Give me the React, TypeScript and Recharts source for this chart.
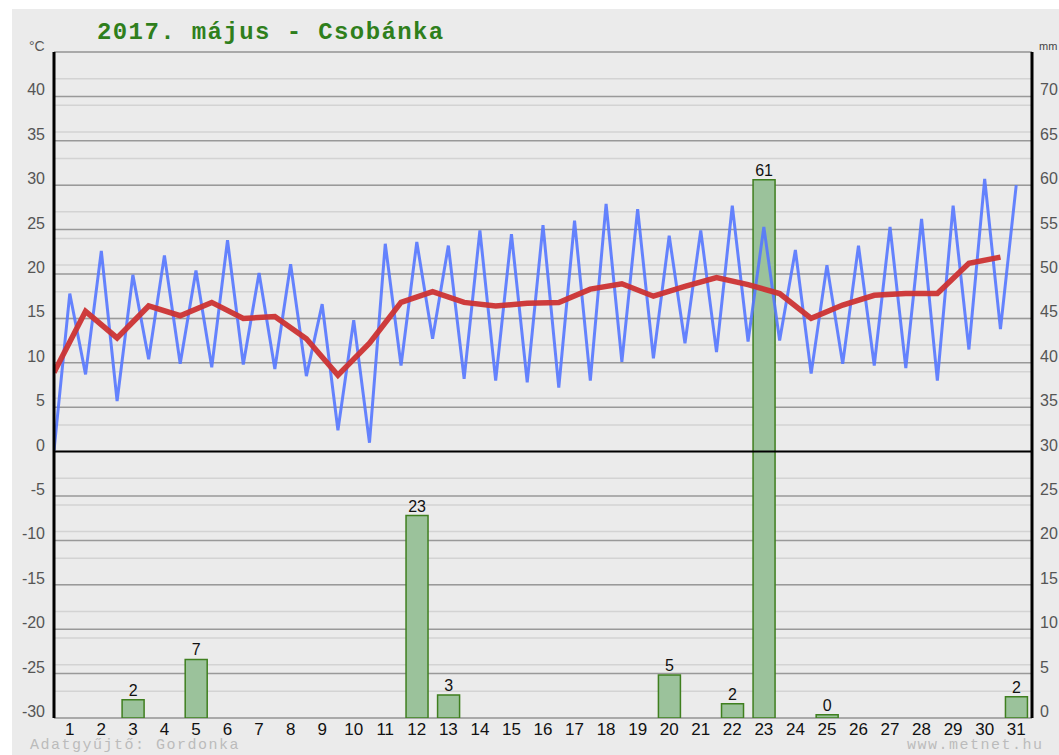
import React from "react";
import {
  ComposedChart,
  Bar,
  Line,
  XAxis,
  YAxis,
  CartesianGrid,
  ReferenceLine,
  LabelList,
} from "recharts";

// napok
const days = [
  1, 2, 3, 4, 5, 6, 7, 8, 9, 10, 11, 12, 13, 14, 15, 16, 17, 18, 19, 20, 21,
  22, 23, 24, 25, 26, 27, 28, 29, 30, 31,
];

// csapadek (mm), null = nem esett
const rainMm = [
  null, null, 2.05, null, 6.6, null, null, null, null, null, null, 22.8, 2.6,
  null, null, null, null, null, null, 4.85, null, 1.6, 60.6, null, 0.37, null,
  null, null, null, null, 2.4,
];

// homerseklet (°C)
const tempMin = [
  0.1, 8.7, 5.7, 10.4, 9.9, 9.5, 9.8, 9.3, 8.5, 2.4, 1.0, 9.7, 12.7, 8.2, 8.0,
  7.8, 7.2, 8.0, 10.1, 10.5, 12.2, 11.2, 12.4, 12.5, 8.8, 9.9, 9.7, 9.4, 8.0,
  11.5, 13.8,
];
const tempMax = [
  17.8, 22.6, 19.9, 22.1, 20.4, 23.8, 20.1, 21.1, 16.6, 14.8, 23.4, 23.6, 23.2,
  24.9, 24.5, 25.5, 26.0, 27.9, 27.3, 24.3, 24.9, 27.7, 25.3, 22.7, 21.0, 23.2,
  25.3, 26.2, 27.7, 30.7, 30.0,
];
const tempMean = [
  8.9, 15.8, 12.8, 16.4, 15.3, 16.8, 15.0, 15.2, 12.7, 8.6, 12.2, 16.8, 18.0,
  16.8, 16.4, 16.7, 16.8, 18.3, 18.9, 17.5, 18.6, 19.6, 18.8, 17.8, 15.0, 16.5,
  17.6, 17.8, 17.8, 21.2, 21.9,
];

const tempTicks = [-30, -25, -20, -15, -10, -5, 0, 5, 10, 15, 20, 25, 30, 35, 40];
const rainTicks = [0, 5, 10, 15, 20, 25, 30, 35, 40, 45, 50, 55, 60, 65, 70];

const chartData = days.map((d, i) => ({ day: d, rain: rainMm[i] }));

// min a nap elejen, max a nap kozepen
const minMaxData = days.flatMap((d, i) => [
  { t: d - 1, v: tempMin[i] },
  { t: d - 0.5, v: tempMax[i] },
]);
const meanData = days.map((d, i) => ({ t: d - 1, v: tempMean[i] }));

const majorGrid = [-30, -25, -20, -15, -10, -5, 5, 10, 15, 20, 25, 30, 35, 40, 45];
const minorGrid = Array.from({ length: 76 }, (_, i) => i - 30);

const sans = "'Liberation Sans', Arial, sans-serif";
const mono = "'Liberation Mono', 'Courier New', monospace";

const TempTick = (props: any) => {
  const { x, y, payload } = props;
  return (
    <text x={x} y={y - 1} textAnchor="end" fill="#555" fontSize={16} fontFamily={sans}>
      {payload.value}
    </text>
  );
};

const RainTick = (props: any) => {
  const { x, y, payload } = props;
  return (
    <text x={x} y={y - 1} textAnchor="start" fill="#555" fontSize={16} fontFamily={sans}>
      {payload.value}
    </text>
  );
};

const DayTick = (props: any) => {
  const { x, y, payload } = props;
  return (
    <text x={x} y={y + 17} textAnchor="middle" fill="#111" fontSize={17} fontFamily={sans}>
      {payload.value}
    </text>
  );
};

const RainLabel = (props: any) => {
  const { x, y, width, value } = props;
  if (value == null) return null;
  return (
    <text x={x + width / 2} y={y - 4} textAnchor="middle" fill="#111" fontSize={16} fontFamily={sans}>
      {Math.round(value)}
    </text>
  );
};

export default function App() {
  return (
    <div
      style={{
        position: "absolute",
        left: 12,
        top: 9,
        width: 1047,
        height: 746,
        background: "#ebebeb",
        overflow: "hidden",
      }}
    >
      <ComposedChart
        width={1047}
        height={746}
        data={chartData}
        margin={{ top: 43, right: 0, bottom: 0, left: 0 }}
      >
        <CartesianGrid
          xAxisId="day"
          yAxisId="temp"
          vertical={false}
          horizontalValues={minorGrid}
          stroke="#d3d3d3"
          strokeWidth={1.5}
        />
        <CartesianGrid
          xAxisId="day"
          yAxisId="temp"
          vertical={false}
          horizontalValues={majorGrid}
          stroke="#999"
          strokeWidth={1.5}
        />
        <XAxis
          xAxisId="day"
          dataKey="day"
          type="category"
          height={37}
          axisLine={false}
          tickLine={false}
          tickSize={0}
          tickMargin={0}
          interval={0}
          tick={<DayTick />}
        />
        <XAxis xAxisId="t" dataKey="t" type="number" domain={[0, 31]} hide allowDataOverflow />
        <YAxis
          yAxisId="temp"
          orientation="left"
          width={42}
          domain={[-30, 45]}
          ticks={tempTicks}
          allowDataOverflow
          axisLine={{ stroke: "#000", strokeWidth: 3 }}
          tickLine={false}
          tickSize={0}
          tickMargin={9}
          tick={<TempTick />}
        />
        <YAxis
          yAxisId="rain"
          orientation="right"
          width={27}
          domain={[0, 75]}
          ticks={rainTicks}
          allowDataOverflow
          axisLine={{ stroke: "#000", strokeWidth: 3 }}
          tickLine={false}
          tickSize={0}
          tickMargin={8}
          tick={<RainTick />}
        />
        <ReferenceLine xAxisId="day" yAxisId="temp" y={0} stroke="#000" strokeWidth={2} />
        <Bar
          xAxisId="day"
          yAxisId="rain"
          dataKey="rain"
          barSize={22}
          fill="#9bc29b"
          stroke="#3f7f1f"
          strokeWidth={1.5}
          isAnimationActive={false}
        >
          <LabelList dataKey="rain" content={<RainLabel />} />
        </Bar>
        <Line
          xAxisId="t"
          yAxisId="temp"
          data={minMaxData}
          dataKey="v"
          type="linear"
          stroke="#5577ff"
          strokeOpacity={0.9}
          strokeWidth={3}
          dot={false}
          isAnimationActive={false}
        />
        <Line
          xAxisId="t"
          yAxisId="temp"
          data={meanData}
          dataKey="v"
          type="linear"
          stroke="#cc3333"
          strokeOpacity={0.95}
          strokeWidth={5.5}
          dot={false}
          isAnimationActive={false}
        />
      </ComposedChart>
      <svg
        width={1047}
        height={746}
        style={{ position: "absolute", left: 0, top: 0, pointerEvents: "none" }}
      >
        <text x={85} y={30} fill="#2f7f1c" fontSize={24} fontWeight="bold" fontFamily={mono} letterSpacing={1.4}>
          2017. május - Csobánka
        </text>
        <text x={17} y={42} fill="#555" fontSize={14} fontFamily={sans}>
          °C
        </text>
        <text x={1027} y={41} fill="#444" fontSize={11} fontFamily={sans}>
          mm
        </text>
        <text x={18} y={740} fill="#bbb" fontSize={15} fontFamily={mono} letterSpacing={1.5}>
          Adatgyűjtő: Gordonka
        </text>
        <text x={895} y={740} fill="#bbb" fontSize={15} fontFamily={mono} letterSpacing={1.5}>
          www.metnet.hu
        </text>
      </svg>
    </div>
  );
}
